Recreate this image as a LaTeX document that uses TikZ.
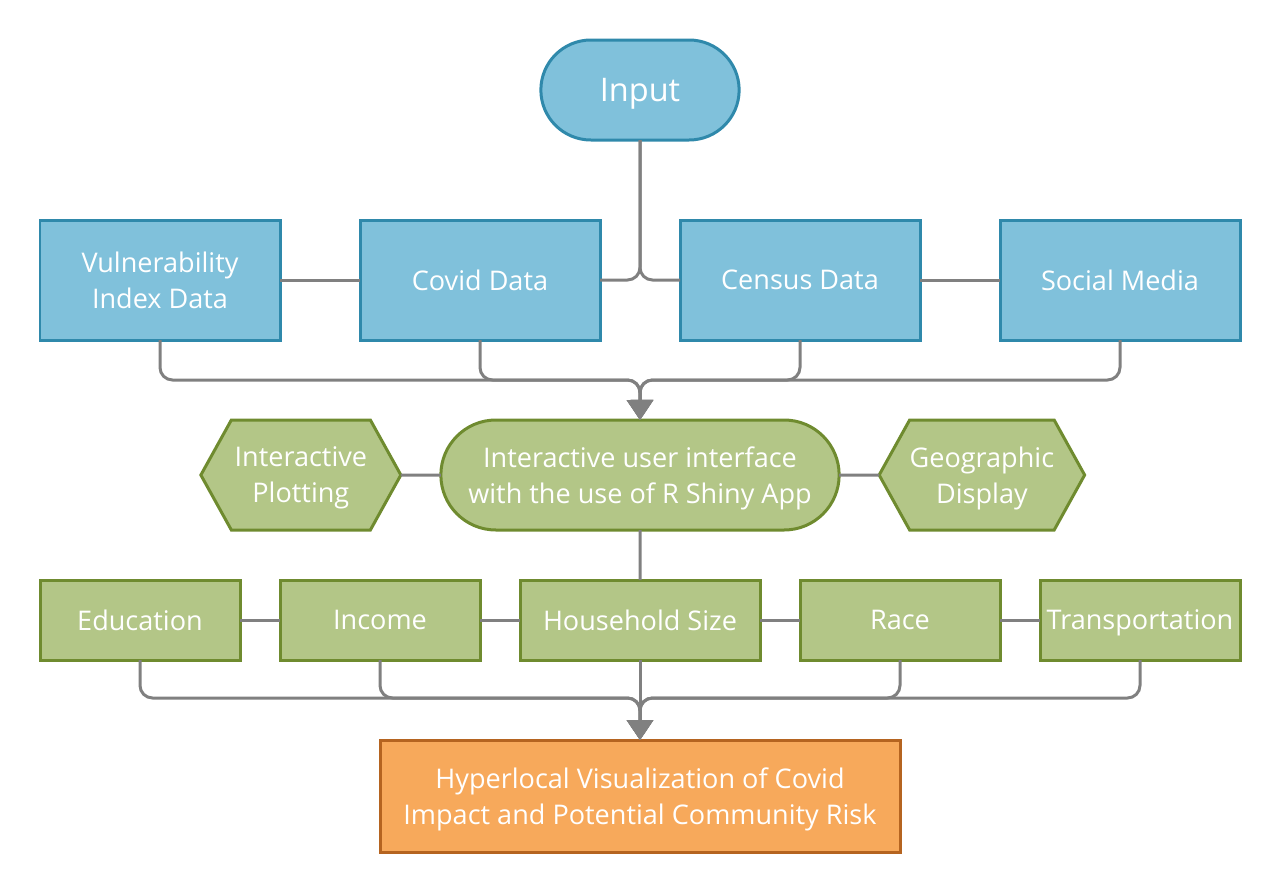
\documentclass[tikz,border=0pt]{standalone}
\usepackage{fontspec}
\setmainfont{Open Sans}
\usepackage{tikz}
\usetikzlibrary{shapes,shapes.misc,shapes.symbols,arrows.meta,positioning,calc}
\definecolor{bluefill}{HTML}{80C1DB}
\definecolor{blueline}{HTML}{2F89AB}
\definecolor{greenfill}{HTML}{B3C687}
\definecolor{greenline}{HTML}{6F8B2F}
\definecolor{orangefill}{HTML}{F7A95B}
\definecolor{orangeline}{HTML}{B56420}
\definecolor{linegray}{HTML}{808080}
\tikzset{
base/.style = {line width=0.06cm, outer sep=0pt, text=white, align=center, text depth=0pt, font=\fontsize{15.4}{20.5}\selectfont},
terminal/.style = {base, draw=blueline, fill=bluefill, rounded rectangle, minimum width=4.2cm, minimum height=2cm, font=\fontsize{18.5}{22}\selectfont},
datablock/.style = {base, draw=blueline, fill=bluefill, rectangle, minimum width=4.8cm, minimum height=2.4cm},
appblock/.style = {base, draw=greenline, fill=greenfill, rounded rectangle, minimum width=8.2cm, minimum height=2.2cm},
hexa/.style = {base, draw=greenline, fill=greenfill, signal, signal to=west and east, signal pointer angle=122, minimum width=4cm, minimum height=2.2cm, inner xsep=0pt},
factor/.style = {base, draw=greenline, fill=greenfill, rectangle, minimum width=4cm, minimum height=1.6cm, inner xsep=0pt},
result/.style = {base, draw=orangeline, fill=orangefill, rectangle, minimum width=10.4cm, minimum height=2.24cm},
line/.style = {draw=linegray, line width=0.06cm, rounded corners=0.25cm}
}
\begin{document}
\begin{tikzpicture}[auto, node distance=1.6cm, >={Triangle[width=0.52cm,length=0.4cm]}]
    \useasboundingbox (0,0) rectangle (25.6,-17.84);
    \node [terminal] (input) at (12.8,-1.8) {Input};

    % data sources
    \node [datablock, below=1.6cm of input, xshift=-3.2cm] (covid) {Covid Data};
    \node [datablock, below=1.6cm of input, xshift=3.2cm] (census) {Census Data};
    \node [datablock, left=of covid] (vuln) {Vulnerability\\Index Data};
    \node [datablock, right=of census] (social) {Social Media};

    % app
    \node [appblock, below=5.6cm of input] (shiny) {Interactive user interface\\with the use of R Shiny App};
    \node [hexa, left=0.8cm of shiny] (plot) {Interactive\\Plotting};
    \node [hexa, right=0.8cm of shiny] (geo) {Geographic\\Display};

    % factors
    \node [factor, below=1cm of shiny, minimum width=4.8cm] (house) {Household Size};
    \node [factor, left=0.8cm of house] (income) {Income};
    \node [factor, left=0.8cm of income] (edu) {Education};
    \node [factor, right=0.8cm of house] (race) {Race};
    \node [factor, right=0.8cm of race] (trans) {Transportation};

    \node [result, below=of house] (out) {Hyperlocal Visualization of Covid\\Impact and Potential Community Risk};

    \coordinate (j1) at ($(shiny.north)+(0,0.8)$);
    \coordinate (j2) at ($(out.north)+(0,0.84)$);

    \draw [line] (input) |- (covid);
    \draw [line] (input) |- (census);
    \draw [line] (vuln) -- (covid);
    \draw [line] (census) -- (social);
    \draw [line,->] (vuln) |- (j1) -- (shiny);
    \draw [line,->] (covid) |- (j1) -- (shiny);
    \draw [line,->] (census) |- (j1) -- (shiny);
    \draw [line,->] (social) |- (j1) -- (shiny);

    \draw [line] (plot) -- (shiny);
    \draw [line] (shiny) -- (geo);
    \draw [line] (shiny) -- (house);

    \draw [line] (edu) -- (income);
    \draw [line] (income) -- (house);
    \draw [line] (house) -- (race);
    \draw [line] (race) -- (trans);
    \draw [line,->] (edu) |- (j2) -- (out);
    \draw [line,->] (income) |- (j2) -- (out);
    \draw [line,->] (house) -- (out);
    \draw [line,->] (race) |- (j2) -- (out);
    \draw [line,->] (trans) |- (j2) -- (out);
\end{tikzpicture}
\end{document}
